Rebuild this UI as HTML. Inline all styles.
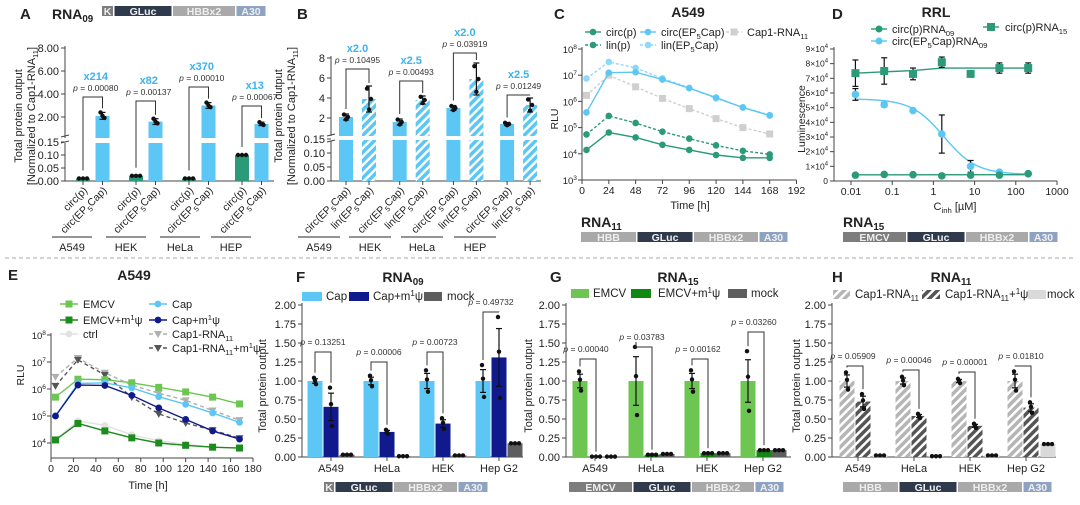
<!DOCTYPE html>
<html><head><meta charset="utf-8"><style>
html,body{margin:0;padding:0;background:#fff;}
svg{display:block;font-family:"Liberation Sans",Arial,sans-serif;}
</style></head><body>
<svg id="fig" width="1080" height="505" viewBox="0 0 1080 505" xmlns="http://www.w3.org/2000/svg">
<defs>
<pattern id="hatchBlue" patternUnits="userSpaceOnUse" width="6" height="6" patternTransform="rotate(45)"><rect width="6" height="6" fill="#5cc6f5"/><rect width="2.5" height="6" fill="#ffffff"/></pattern>
<pattern id="hatchLight" patternUnits="userSpaceOnUse" width="6" height="6" patternTransform="rotate(45)"><rect width="6" height="6" fill="#b5b5b5"/><rect width="2.5" height="6" fill="#ffffff"/></pattern>
<pattern id="hatchDark" patternUnits="userSpaceOnUse" width="6" height="6" patternTransform="rotate(45)"><rect width="6" height="6" fill="#555555"/><rect width="2.5" height="6" fill="#ffffff"/></pattern>
</defs>
</svg>
<script>
// ---------- DATA ----------
const A_groups=['A549','HEK','HeLa','HEP'];
const A_circp=[0.01,0.02,0.01,0.10];
const A_circEP=[2.1,1.6,3.0,1.4];
const A_circEP_sd=[0.3,0.25,0.25,0.15];
const A_fold=['x214','x82','x370','x13'];
const A_p=['0.00080','0.00137','0.00010','0.00067'];
const A_ticksUp=[2,4,6,8];
const A_ticksLow=[0,0.05,0.10,0.15];
const B_groups=['A549','HEK','HeLa','HEP'];
const B_circ=[2.1,1.6,3.0,1.4];
const B_circ_sd=[0.3,0.3,0.25,0.15];
const B_lin=[3.9,3.8,5.9,3.3];
const B_lin_sd=[1.3,0.4,1.6,0.7];
const B_fold=['x2.0','x2.5','x2.0','x2.5'];
const B_p=['0.10495','0.00493','0.03919','0.01249'];
const B_ticksUp=[2,4,6,8];
const C_time=[4,24,48,72,96,120,144,168];
const C_circp=[1.4e4,6.5e4,4.2e4,2.2e4,1.4e4,9e3,7e3,7e3];
const C_linp=[5.5e4,2.8e5,1.5e5,7e4,3.8e4,2.1e4,1.3e4,9.5e3];
const C_circEP=[3.8e5,1.25e7,1.3e7,6.8e6,3.2e6,1.4e6,5.8e5,2.9e5];
const C_linEP=[7.5e6,3.2e7,1.9e7,7.5e6,3.3e6,1.3e6,6e5,3e5];
const C_cap1=[1.7e6,1.0e7,3.6e6,1.3e6,5.3e5,2.2e5,1.0e5,5.7e4];
const C_xticks=[0,24,48,72,96,120,144,168,192];
const D_conc=[0.0128,0.064,0.32,1.6,8,40,200];
const D_circp09=[4000,4500,4300,3500,4000,4000,5000];
const D_circEP09=[59000,52000,48000,32000,10000,6000,5000];
const D_circEP09_sd=[4000,1500,1000,13000,4000,500,500];
const D_circp15=[73500,75000,73000,81000,73000,77000,77000];
const D_circp15_sd=[9000,9000,4000,3500,500,3500,3500];
const D_fitEP=[56000,4500,1.8,1.1];
const D_xticks=[0.01,0.1,1,10,100,1000];
const D_xlabels=['0.01','0.1','1','10','100','1000'];
const E_time=[4,24,48,72,96,120,144,168];
const E_emcv=[5e5,2.3e6,2.2e6,1.7e6,1.15e6,7.8e5,5e5,2.8e5];
const E_emcvm=[1.3e4,5.3e4,2.8e4,1.55e4,1.0e4,8.2e3,7e3,6.5e3];
const E_ctrl=[1.3e4,6.5e4,4.5e4,2.0e4,1.2e4,9e3,7e3,6.5e3];
const E_cap=[1e5,1.6e6,1.7e6,1.1e6,5.2e5,2.7e5,1.3e5,5.8e4];
const E_capm=[1e5,1.4e6,1.35e6,5.8e5,2e5,7.5e4,2.8e4,1.4e4];
const E_cap1=[2.8e6,1.4e7,4e6,1.4e6,7e5,3.8e5,1.6e5,7e4];
const E_cap1m=[1.3e6,1.2e7,3.3e6,5e5,1.2e5,5.5e4,3e4,1.5e4];
const E_xticks=[0,20,40,60,80,100,120,140,160,180];
const cells=['A549','HeLa','HEK','Hep G2'];
const FGH_ticks=[0,0.25,0.5,0.75,1,1.25,1.5,1.75,2];
const F_cap=[1,1,1,1];
const F_cap_sd=[0.03,0.05,0.1,0.15];
const F_capm=[0.66,0.33,0.44,1.31];
const F_capm_sd=[0.18,0.02,0.05,0.38];
const F_mock=[0.03,0.01,0.02,0.18];
const F_p=['0.13251','0.00006','0.00723','0.49732'];
const G_emcv=[1,1,1,1];
const G_emcv_sd=[0.09,0.32,0.1,0.28];
const G_emcvm=[0.005,0.03,0.05,0.09];
const G_mock=[0.005,0.04,0.05,0.09];
const G_p=['0.00040','0.03783','0.00162','0.03260'];
const H_cap1=[1,1,1,1];
const H_cap1_sd=[0.08,0.04,0.02,0.09];
const H_cap1m=[0.73,0.54,0.41,0.65];
const H_cap1m_sd=[0.07,0.02,0.02,0.05];
const H_mock=[0.02,0.01,0.02,0.17];
const H_p=['0.05909','0.00046','0.00001','0.01810'];

// ---------- HELPERS ----------
const NS='http://www.w3.org/2000/svg';
const svg=document.getElementById('fig');
function el(tag,attrs,name,parent){
  const e=document.createElementNS(NS,tag);
  for(const k in attrs) e.setAttribute(k,attrs[k]);
  
  
  (parent||svg).appendChild(e);
  return e;
}
function txt(x,y,html,size,name,o){
  const e=el('text',Object.assign({x:x,y:y,'font-size':size,fill:'#222'},o||{}),name);
  e.innerHTML=html; return e;
}
function ln(x1,y1,x2,y2,name,o){return el('line',Object.assign({x1:x1,y1:y1,x2:x2,y2:y2,stroke:'#444','stroke-width':1},o||{}),name);}
function rc(x,y,w,h,fill,name,o){return el('rect',Object.assign({x:x,y:y,width:w,height:h,fill:fill},o||{}),name);}
function dot(x,y,name,r,fill){return el('circle',{cx:x,cy:y,r:r||2.2,fill:fill||'#111'},name);}
const sub=s=>'<tspan dy="3" font-size="70%">'+s+'</tspan><tspan dy="-3">&#8203;</tspan>';
const sup=s=>'<tspan dy="-4" font-size="70%">'+s+'</tspan><tspan dy="4">&#8203;</tspan>';
function gene(x,y,segs,name){
  let cx=x;
  segs.forEach(s=>{
    rc(cx,y,s[1],10,s[2],name+'-segment');
    txt(cx+s[1]/2,y+9,s[0],10.5,name+'-label',{'text-anchor':'middle',fill:s[3],'font-weight':'bold'});
    cx+=s[1]+1.5;
  });
}
function errbar(x,y1,y2,name){
  ln(x,y1,x,y2,name,{stroke:'#111','stroke-width':1.2});
  ln(x-3,y1,x+3,y1,name,{stroke:'#111','stroke-width':1.2});
  ln(x-3,y2,x+3,y2,name,{stroke:'#111','stroke-width':1.2});
}
function bracket(x1,yl,x2,yr,yt,name){
  el('polyline',{points:`${x1},${yl} ${x1},${yt} ${x2},${yt} ${x2},${yr}`,fill:'none',stroke:'#333','stroke-width':1},name);
}
const lg10=Math.log10;
const K='#7d7d7d',GL='#2f3a4d',HB='#a9a9a9',A3='#8ea2c2';

// ---------- TOP LETTERS / TITLES ----------
txt(20,19,'A',15,'panel-letter-a',{'font-weight':'bold'});
txt(52,19,'RNA'+sub('09'),14,'panel-a-title',{'font-weight':'bold'});
gene(102,6,[['K',11,K,'#eee'],['GLuc',57,GL,'#eee'],['HBBx2',62,HB,'#eee'],['A30',29,A3,'#eee']],'gene-map-a');
txt(297,19,'B',15,'panel-letter-b',{'font-weight':'bold'});
txt(554,19,'C',15,'panel-letter-c',{'font-weight':'bold'});
txt(688,17,'A549',14,'panel-c-title',{'font-weight':'bold','text-anchor':'middle'});
txt(832,19,'D',15,'panel-letter-d',{'font-weight':'bold'});
txt(936,17,'RRL',14,'panel-d-title',{'font-weight':'bold','text-anchor':'middle'});
ln(5,258,1075,258,'panel-separator',{stroke:'#aaa','stroke-dasharray':'4,3'});
txt(8,280,'E',15,'panel-letter-e',{'font-weight':'bold'});
txt(134,280,'A549',14,'panel-e-title',{'font-weight':'bold','text-anchor':'middle'});
txt(296,282,'F',15,'panel-letter-f',{'font-weight':'bold'});
txt(403,282,'RNA'+sub('09'),14,'panel-f-title',{'font-weight':'bold','text-anchor':'middle'});
txt(550,282,'G',15,'panel-letter-g',{'font-weight':'bold'});
txt(678,282,'RNA'+sub('15'),14,'panel-g-title',{'font-weight':'bold','text-anchor':'middle'});
txt(832,282,'H',15,'panel-letter-h',{'font-weight':'bold'});
txt(951,282,'RNA'+sub('11'),14,'panel-h-title',{'font-weight':'bold','text-anchor':'middle'});

// ---------- PANEL A ----------
(function(){
  const ax=65, base=181;
  const yUp=v=>140-v*11.5;
  const yLo=v=>base-v/0.15*39;
  ln(ax,46,ax,138,'a-y-axis-upper');
  ln(ax,143,ax,base,'a-y-axis-lower');
  ln(ax-4,137,ax+4,135,'a-axis-break');ln(ax-4,143,ax+4,141,'a-axis-break');
  ln(ax,base,274,base,'a-x-axis');
  A_ticksUp.forEach(t=>{ln(ax-4,yUp(t),ax,yUp(t),'a-y-tick');txt(ax-6,yUp(t)+4,t.toFixed(2),11,'a-y-tick-label',{'text-anchor':'end'});});
  A_ticksLow.forEach(t=>{ln(ax-4,yLo(t),ax,yLo(t),'a-y-tick');txt(ax-6,yLo(t)+4,t.toFixed(2),11,'a-y-tick-label',{'text-anchor':'end'});});
  txt(0,0,'Total protein output',11,'a-y-axis-title',{'text-anchor':'middle',transform:'translate(22,116) rotate(-90)'});
  txt(0,0,'[Normalized to Cap1-RNA'+sub('11')+']',11,'a-y-axis-title',{'text-anchor':'middle',transform:'translate(35,116) rotate(-90)'});
  const brk=[97,101,87,106];
  A_groups.forEach((g,i)=>{
    const x1=83+53*i, x2=x1+19.5, w=14;
    rc(x1-w/2,yLo(A_circp[i]),w,base-yLo(A_circp[i]),'#2a9a78','a-bar-circ-p');
    [-4,0,4].forEach(d=>dot(x1+d,yLo(A_circp[i]),'a-replicate-dot'));
    rc(x2-w/2,143,w,base-143,'#5cc6f5','a-bar-circ-ep5cap');
    rc(x2-w/2,yUp(A_circEP[i]),w,138-yUp(A_circEP[i]),'#5cc6f5','a-bar-circ-ep5cap');
    errbar(x2,yUp(A_circEP[i]+A_circEP_sd[i]),yUp(A_circEP[i]-A_circEP_sd[i]),'a-error-bar');
    dot(x2-2,yUp(A_circEP[i]+A_circEP_sd[i]),'a-replicate-dot');dot(x2+2,yUp(A_circEP[i]-A_circEP_sd[i]*0.6),'a-replicate-dot');dot(x2,yUp(A_circEP[i]),'a-replicate-dot');
    bracket(x1,yLo(A_circp[i])-8,x2,yUp(A_circEP[i]+A_circEP_sd[i])-4,brk[i],'a-significance-bracket');
    const cx=(x1+x2)/2;
    txt(cx+3,brk[i]-6,'<tspan font-style="italic">p</tspan> = '+A_p[i],8.5,'a-p-value',{'text-anchor':'middle','fill':'#333'});
    txt(cx+3,brk[i]-17,A_fold[i],11,'a-fold-change',{'text-anchor':'middle',fill:'#3bb3ee','font-weight':'bold'});
    ln(x1,base,x1,base+4,'a-x-tick');ln(x2,base,x2,base+4,'a-x-tick');
    txt(0,0,'circ(p)',10.5,'a-x-label',{'text-anchor':'end',transform:`translate(${x1+5},${base+10}) rotate(-45)`});
    txt(0,0,'circ(EP'+sub('5')+'Cap)',10.5,'a-x-label',{'text-anchor':'end',transform:`translate(${x2+5},${base+10}) rotate(-45)`});
    const gc=[72,126,180,231][i];
    ln(gc-20,237,gc+20,237,'a-group-line',{stroke:'#555','stroke-width':1.3});
    txt(gc,251,g,11,'a-group-label',{'text-anchor':'middle'});
  });
})();

// ---------- PANEL B ----------
(function(){
  const ax=331, base=181;
  const yUp=v=>138-v*10;
  const yLo=v=>base-v/0.15*42;
  ln(ax,56,ax,136,'b-y-axis-upper');
  ln(ax,141,ax,base,'b-y-axis-lower');
  ln(ax-4,136,ax+4,134,'b-axis-break');ln(ax-4,142,ax+4,140,'b-axis-break');
  ln(ax,base,541,base,'b-x-axis');
  B_ticksUp.forEach(t=>{ln(ax-4,yUp(t),ax,yUp(t),'b-y-tick');txt(ax-6,yUp(t)+4,String(t),11,'b-y-tick-label',{'text-anchor':'end'});});
  A_ticksLow.forEach(t=>{ln(ax-4,yLo(t),ax,yLo(t),'b-y-tick');txt(ax-6,yLo(t)+4,t.toFixed(2),11,'b-y-tick-label',{'text-anchor':'end'});});
  txt(0,0,'Total protein output',11,'b-y-axis-title',{'text-anchor':'middle',transform:'translate(282,116) rotate(-90)'});
  txt(0,0,'[Normalized to Cap1-RNA'+sub('11')+']',11,'b-y-axis-title',{'text-anchor':'middle',transform:'translate(295,116) rotate(-90)'});
  const brk=[69,81,53,95];
  B_groups.forEach((g,i)=>{
    const x1=346+53.7*i, x2=x1+23, w=14;
    rc(x1-w/2,140,w,base-140,'#5cc6f5','b-bar-circ');
    rc(x1-w/2,yUp(B_circ[i]),w,136-yUp(B_circ[i]),'#5cc6f5','b-bar-circ');
    rc(x2-w/2,140,w,base-140,'url(#hatchBlue)','b-bar-lin');
    rc(x2-w/2,yUp(B_lin[i]),w,136-yUp(B_lin[i]),'url(#hatchBlue)','b-bar-lin');
    errbar(x1,yUp(B_circ[i]+B_circ_sd[i]),yUp(B_circ[i]-B_circ_sd[i]),'b-error-bar');
    errbar(x2,yUp(B_lin[i]+B_lin_sd[i]),yUp(B_lin[i]-B_lin_sd[i]),'b-error-bar');
    [[x1,B_circ[i],B_circ_sd[i]],[x2,B_lin[i],B_lin_sd[i]]].forEach(a=>{
      dot(a[0]-2,yUp(a[1]+a[2]*0.8),'b-replicate-dot');dot(a[0]+2,yUp(a[1]),'b-replicate-dot');dot(a[0],yUp(a[1]-a[2]*0.8),'b-replicate-dot');
    });
    bracket(x1,yUp(B_circ[i]+B_circ_sd[i])-5,x2,yUp(B_lin[i]+B_lin_sd[i])-3,brk[i],'b-significance-bracket');
    const cx=(x1+x2)/2;
    txt(cx,brk[i]-6,'<tspan font-style="italic">p</tspan> = '+B_p[i],8.5,'b-p-value',{'text-anchor':'middle',fill:'#333'});
    txt(cx,brk[i]-17,B_fold[i],11,'b-fold-change',{'text-anchor':'middle',fill:'#3bb3ee','font-weight':'bold'});
    ln(x1,base,x1,base+4,'b-x-tick');ln(x2,base,x2,base+4,'b-x-tick');
    txt(0,0,'circ(EP'+sub('5')+'Cap)',10.5,'b-x-label',{'text-anchor':'end',transform:`translate(${x1+5},${base+10}) rotate(-45)`});
    txt(0,0,'lin(EP'+sub('5')+'Cap)',10.5,'b-x-label',{'text-anchor':'end',transform:`translate(${x2+5},${base+10}) rotate(-45)`});
    const gc=[319,370,422,475][i];
    ln(gc-21,237,gc+21,237,'b-group-line',{stroke:'#555','stroke-width':1.3});
    txt(gc,251,g,11,'b-group-label',{'text-anchor':'middle'});
  });
})();

// ---------- PANEL C ----------
(function(){
  const ax=582, base=180;
  const x=t=>ax+t*1.1172;
  const y=v=>180-(lg10(v)-3)*26.2;
  ln(ax,47,ax,base,'c-y-axis');ln(ax,base,x(192),base,'c-x-axis');
  [3,4,5,6,7,8].forEach(e=>{ln(ax-4,y(10**e),ax,y(10**e),'c-y-tick');txt(ax-5,y(10**e)+4,'10'+sup(e),9.5,'c-y-tick-label',{'text-anchor':'end'});});
  C_xticks.forEach(t=>{ln(x(t),base,x(t),base+4,'c-x-tick');txt(x(t),base+14,String(t),10.5,'c-x-tick-label',{'text-anchor':'middle'});});
  txt(690,209,'Time [h]',11,'c-x-axis-title',{'text-anchor':'middle'});
  txt(0,0,'RLU',10.5,'c-y-axis-title',{'text-anchor':'middle',transform:'translate(558,119) rotate(-90)'});
  const series=[
    [C_cap1,'#cfcfcf','3,2','sq','cap1-rna11'],
    [C_linEP,'#8fd8fa','3,2','c','lin-ep5cap'],
    [C_circEP,'#5cc6f5',null,'c','circ-ep5cap'],
    [C_linp,'#2a9a78','3,2','c','lin-p'],
    [C_circp,'#2a9a78',null,'c','circ-p']];
  series.forEach(s=>{
    const pts=C_time.map((t,i)=>x(t)+','+y(s[0][i])).join(' ');
    const o={points:pts,fill:'none',stroke:s[1],'stroke-width':1.4};
    if(s[2]) o['stroke-dasharray']=s[2];
    el('polyline',o,'c-line-'+s[4]);
    C_time.forEach((t,i)=>{
      if(s[3]==='sq') rc(x(t)-3.5,y(s[0][i])-3.5,7,7,s[1],'c-point-'+s[4]);
      else dot(x(t),y(s[0][i]),'c-point-'+s[4],3.3,s[1]);
    });
  });
  const L=[[593,36,'#2a9a78',null,'c','circ(p)'],[593,49,'#2a9a78','3,2','c','lin(p)'],
           [648,36,'#5cc6f5',null,'c','circ(EP'+sub('5')+'Cap)'],[648,49,'#8fd8fa','3,2','c','lin(EP'+sub('5')+'Cap)'],
           [734,36,'#cfcfcf','3,2','sq','Cap1-RNA'+sub('11')]];
  L.forEach(l=>{
    const o={stroke:l[2],'stroke-width':1.4};if(l[3])o['stroke-dasharray']=l[3];
    ln(l[0]-8,l[1]-4,l[0]+8,l[1]-4,'c-legend-line',o);
    if(l[4]==='sq') rc(l[0]-3.5,l[1]-7.5,7,7,l[2],'c-legend-marker'); else dot(l[0],l[1]-4,'c-legend-marker',3.3,l[2]);
    txt(l[0]+13,l[1],l[5],11,'c-legend-label');
  });
  txt(581,227,'RNA'+sub('11'),14,'rna11-label',{'font-weight':'bold'});
  gene(581,232,[['HBB',55,HB,'#eee'],['GLuc',55,GL,'#eee'],['HBBx2',64,HB,'#eee'],['A30',28,A3,'#eee']],'gene-map-c');
})();

// ---------- PANEL D ----------
(function(){
  const ax=834, base=181;
  const x=c=>851+(lg10(c)+2)*41.2;
  const y=v=>181-v/10000*14.67;
  ln(ax,47,ax,base,'d-y-axis');ln(ax,base,x(1000),base,'d-x-axis');
  for(let k=0;k<=9;k++){
    ln(ax-4,y(k*1e4),ax,y(k*1e4),'d-y-tick');
    txt(ax-6,y(k*1e4)+3,k===0?'0':k+'×10'+sup('4'),8.5,'d-y-tick-label',{'text-anchor':'end'});
  }
  D_xticks.forEach((c,i)=>{ln(x(c),base,x(c),base+4,'d-x-tick');txt(x(c),base+14,D_xlabels[i],10.5,'d-x-tick-label',{'text-anchor':'middle'});});
  txt(955,210,'C'+sub('inh')+' [µM]',11,'d-x-axis-title',{'text-anchor':'middle'});
  txt(0,0,'Luminescence',10.5,'d-y-axis-title',{'text-anchor':'middle',transform:'translate(805,119) rotate(-90)'});
  let pts=[];
  for(let l=lg10(D_conc[0]);l<=lg10(D_conc[6])+0.001;l+=0.05){
    const c=10**l;
    const v=D_fitEP[1]+(D_fitEP[0]-D_fitEP[1])/(1+(c/D_fitEP[2])**D_fitEP[3]);
    pts.push(x(c)+','+y(v));
  }
  el('polyline',{points:pts.join(' '),fill:'none',stroke:'#5cc6f5','stroke-width':1.4},'d-fit-curve-circ-ep5cap');
  el('polyline',{points:D_conc.map((c,i)=>x(c)+','+y(i<3?D_circp15[0]+(i*900):D_circp15[6])).join(' '),fill:'none',stroke:'#2a9a78','stroke-width':1.4},'d-fit-curve-circ-p-rna15');
  el('polyline',{points:x(D_conc[0])+','+y(4200)+' '+x(D_conc[6])+','+y(4300),fill:'none',stroke:'#2a9a78','stroke-width':1.4},'d-fit-curve-circ-p-rna09');
  D_conc.forEach((c,i)=>{
    errbar(x(c),y(D_circEP09[i]+D_circEP09_sd[i]),y(D_circEP09[i]-D_circEP09_sd[i]),'d-error-bar');
    dot(x(c),y(D_circEP09[i]),'d-point-circ-ep5cap-rna09',3.8,'#5cc6f5');
    errbar(x(c),y(D_circp15[i]+D_circp15_sd[i]),y(D_circp15[i]-D_circp15_sd[i]),'d-error-bar');
    rc(x(c)-4,y(D_circp15[i])-4,8,8,'#2a9a78','d-point-circ-p-rna15');
    dot(x(c),y(D_circp09[i]),'d-point-circ-p-rna09',3.8,'#2a9a78');
  });
  ln(871,29,887,29,'d-legend-line',{stroke:'#2a9a78','stroke-width':1.4});dot(879,29,'d-legend-marker',3.5,'#2a9a78');
  txt(892,33,'circ(p)RNA'+sub('09'),11,'d-legend-label');
  ln(871,41,887,41,'d-legend-line',{stroke:'#5cc6f5','stroke-width':1.4});dot(879,41,'d-legend-marker',3.5,'#5cc6f5');
  txt(892,45,'circ(EP'+sub('5')+'Cap)RNA'+sub('09'),11,'d-legend-label');
  ln(983,27,999,27,'d-legend-line',{stroke:'#2a9a78','stroke-width':1.4});rc(987,23,8,8,'#2a9a78','d-legend-marker');
  txt(1005,31,'circ(p)RNA'+sub('15'),11,'d-legend-label');
  txt(843,227,'RNA'+sub('15'),14,'rna15-label',{'font-weight':'bold'});
  gene(843,232,[['EMCV',63,K,'#eee'],['GLuc',57,GL,'#eee'],['HBBx2',62,HB,'#eee'],['A30',28,A3,'#eee']],'gene-map-d');
})();

// ---------- PANEL E ----------
(function(){
  const ax=51, base=458;
  const x=t=>ax+t*1.1222;
  const y=v=>443-(lg10(v)-4)*27;
  ln(ax,333,ax,base,'e-y-axis');ln(ax,base,x(180),base,'e-x-axis');
  [4,5,6,7,8].forEach(e=>{ln(ax-4,y(10**e),ax,y(10**e),'e-y-tick');txt(ax-5,y(10**e)+4,'10'+sup(e),9.5,'e-y-tick-label',{'text-anchor':'end'});});
  E_xticks.forEach(t=>{ln(x(t),base,x(t),base+4,'e-x-tick');txt(x(t),base+14,String(t),10.5,'e-x-tick-label',{'text-anchor':'middle'});});
  txt(148,489,'Time [h]',11,'e-x-axis-title',{'text-anchor':'middle'});
  txt(0,0,'RLU',10.5,'e-y-axis-title',{'text-anchor':'middle',transform:'translate(24,375) rotate(-90)'});
  const S=[
    [E_ctrl,'#e2e2e2',null,'c','ctrl'],
    [E_cap1,'#b0b0b0','4,3','t','cap1-rna11'],
    [E_cap1m,'#555555','4,3','t','cap1-rna11-m1psi'],
    [E_emcv,'#6cc651',null,'sq','emcv'],
    [E_cap,'#5cc6f5',null,'c','cap'],
    [E_capm,'#111a8c',null,'c','cap-m1psi'],
    [E_emcvm,'#1c8c1c',null,'sq','emcv-m1psi']];
  S.forEach(s=>{
    const o={points:E_time.map((t,i)=>x(t)+','+y(s[0][i])).join(' '),fill:'none',stroke:s[1],'stroke-width':1.4};
    if(s[2])o['stroke-dasharray']=s[2];
    el('polyline',o,'e-line-'+s[4]);
    E_time.forEach((t,i)=>{
      const px=x(t),py=y(s[0][i]);
      if(s[3]==='sq') rc(px-3.5,py-3.5,7,7,s[1],'e-point-'+s[4]);
      else if(s[3]==='t') el('polygon',{points:`${px-4},${py-3} ${px+4},${py-3} ${px},${py+4}`,fill:s[1]},'e-point-'+s[4]);
      else dot(px,py,'e-point-'+s[4],3.4,s[1]);
    });
  });
  const L=[[69,308,'#6cc651',null,'sq','EMCV'],[69,324,'#1c8c1c',null,'sq','EMCV+m'+sup('1')+'ψ'],[69,338,'#e2e2e2',null,'c','ctrl'],
           [158,308,'#5cc6f5',null,'c','Cap'],[158,324,'#111a8c',null,'c','Cap+m'+sup('1')+'ψ'],
           [158,338,'#b0b0b0','4,3','t','Cap1-RNA'+sub('11')],[158,352,'#555555','4,3','t','Cap1-RNA'+sub('11')+'+m'+sup('1')+'ψ']];
  L.forEach(l=>{
    const o={stroke:l[2],'stroke-width':1.4};if(l[3])o['stroke-dasharray']=l[3];
    ln(l[0]-9,l[1]-4,l[0]+9,l[1]-4,'e-legend-line',o);
    if(l[4]==='sq') rc(l[0]-3.5,l[1]-7.5,7,7,l[2],'e-legend-marker');
    else if(l[4]==='t') el('polygon',{points:`${l[0]-4},${l[1]-7} ${l[0]+4},${l[1]-7} ${l[0]},${l[1]}`,fill:l[2]},'e-legend-marker');
    else dot(l[0],l[1]-4,'e-legend-marker',3.4,l[2]);
    txt(l[0]+14,l[1],l[5],11,'e-legend-label');
  });
})();

// ---------- BAR PANELS F,G,H ----------
function barPanel(cfg){
  const ax=cfg.ax, base=457;
  const y=v=>base-v*76;
  ln(ax,303,ax,base,cfg.id+'-y-axis');ln(ax,base,cfg.end,base,cfg.id+'-x-axis');
  FGH_ticks.forEach(t=>{ln(ax-4,y(t),ax,y(t),cfg.id+'-y-tick');txt(ax-6,y(t)+4,t.toFixed(2),11,cfg.id+'-y-tick-label',{'text-anchor':'end'});});
  cells.forEach((c,i)=>{
    const gc=cfg.g0+56*i;
    const xs=cfg.off.map(o=>gc+o);
    cfg.series.forEach((s,k)=>{
      const v=s.vals[i];
      rc(xs[k]-7.5,y(v),15,base-y(v),s.fill,cfg.id+'-bar-'+s.name);
      if(s.sd){
        errbar(xs[k],y(v+s.sd[i]),y(v-s.sd[i]),cfg.id+'-error-bar');
        dot(xs[k]-1,y(v+s.sd[i]*1.4),cfg.id+'-replicate-dot',2.2);dot(xs[k]+1,y(v-s.sd[i]*1.4),cfg.id+'-replicate-dot',2.2);dot(xs[k],y(v+s.sd[i]*0.2),cfg.id+'-replicate-dot',2.2);
      } else {
        [-4,0,4].forEach(d=>dot(xs[k]+d,y(v),cfg.id+'-replicate-dot',2.2));
      }
    });
    const s0=cfg.series[0],s1=cfg.series[1];
    bracket(xs[0],y(s0.vals[i]+(s0.sd?s0.sd[i]*1.4:0))-5,xs[1],y(s1.vals[i]+(s1.sd?s1.sd[i]*1.4:0))-5,cfg.brk[i],cfg.id+'-significance-bracket');
    txt(xs[0]+cfg.poff,cfg.brk[i]-7,'<tspan font-style="italic">p</tspan> = '+cfg.p[i],8.5,cfg.id+'-p-value',{'text-anchor':'middle',fill:'#333'});
    ln(gc,base,gc,base+4,cfg.id+'-x-tick');
    txt(gc,base+15,c,11,cfg.id+'-x-tick-label',{'text-anchor':'middle'});
  });
  cfg.legend.forEach(l=>{
    rc(l[0],cfg.ly-8,l[1],9,l[2],cfg.id+'-legend-swatch');
    txt(l[3],cfg.ly,l[4],11.5,cfg.id+'-legend-label');
  });
}
barPanel({id:'f',ax:302,end:523,g0:331,off:[-16,0,16],ly:300,brk:[352,362,352,312],poff:8,p:F_p,
  series:[{name:'cap',vals:F_cap,sd:F_cap_sd,fill:'#5cc6f5'},{name:'cap-m1psi',vals:F_capm,sd:F_capm_sd,fill:'#111a8c'},{name:'mock',vals:F_mock,fill:'#5e5e5e'}],
  legend:[[302,20,'#5cc6f5',326,'Cap'],[349,20,'#111a8c',373,'Cap+m'+sup('1')+'ψ'],[424,18,'#5e5e5e',447,'mock']]});
barPanel({id:'g',ax:566,end:791,g0:595,off:[-15,1,16],ly:297,brk:[359,347,359,332],poff:6,p:G_p,
  series:[{name:'emcv',vals:G_emcv,sd:G_emcv_sd,fill:'#6cc651'},{name:'emcv-m1psi',vals:G_emcvm,fill:'#118811'},{name:'mock',vals:G_mock,fill:'#5e5e5e'}],
  legend:[[571,18,'#6cc651',593,'EMCV'],[631,20,'#118811',658,'EMCV+m'+sup('1')+'ψ'],[728,19,'#5e5e5e',751,'mock']]});
barPanel({id:'h',ax:832,end:1056,g0:858,off:[-11,5,22],ly:298,brk:[366,370,372,366],poff:6,p:H_p,
  series:[{name:'cap1-rna11',vals:H_cap1,sd:H_cap1_sd,fill:'url(#hatchLight)'},{name:'cap1-rna11-m1psi',vals:H_cap1m,sd:H_cap1m_sd,fill:'url(#hatchDark)'},{name:'mock',vals:H_mock,fill:'#d9d9d9'}],
  legend:[[833,17,'url(#hatchLight)',855,'Cap1-RNA'+sub('11')],[922,18,'url(#hatchDark)',945,'Cap1-RNA'+sub('11')+'+'+sup('1')+'ψ'],[1028,18,'#d9d9d9',1047,'mock']]});
txt(0,0,'Total protein output',11,'f-y-axis-title',{'text-anchor':'middle',transform:'translate(266,386) rotate(-90)'});
txt(0,0,'Total protein output',11,'g-y-axis-title',{'text-anchor':'middle',transform:'translate(532,386) rotate(-90)'});
txt(0,0,'Total protein output',11,'h-y-axis-title',{'text-anchor':'middle',transform:'translate(800,386) rotate(-90)'});
gene(324,482,[['K',10,K,'#eee'],['GLuc',57,GL,'#eee'],['HBBx2',63,HB,'#eee'],['A30',29,A3,'#eee']],'gene-map-f');
gene(569,482,[['EMCV',63,K,'#eee'],['GLuc',57,GL,'#eee'],['HBBx2',62,HB,'#eee'],['A30',28,A3,'#eee']],'gene-map-g');
gene(843,482,[['HBB',55,HB,'#eee'],['GLuc',57,GL,'#eee'],['HBBx2',64,HB,'#eee'],['A30',28,A3,'#eee']],'gene-map-h');
</script>
</body></html>
